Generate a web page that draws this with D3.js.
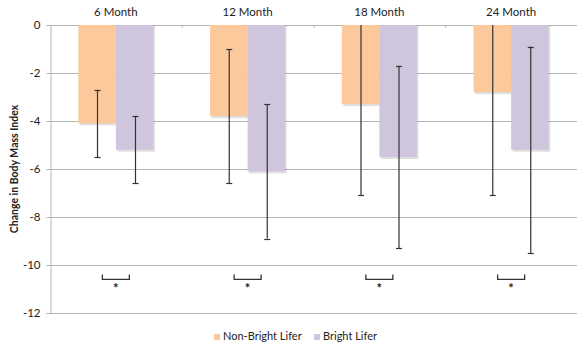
<!DOCTYPE html>
<html><head><meta charset="utf-8">
<script src="https://cdn.jsdelivr.net/npm/d3@7"></script>
<style>
body{margin:0;background:#fff;}
svg{display:block;font-family:Lato,"Open Sans",sans-serif;}
</style></head>
<body><svg id="c" width="587" height="356"></svg>
<script>
const categories = ["6 Month","12 Month","18 Month","24 Month"];
const seriesNames = ["Non-Bright Lifer","Bright Lifer"];
const nonBright = [-4.1,-3.8,-3.3,-2.8];
const bright = [-5.2,-6.1,-5.5,-5.2];
const errNonBright = [1.4,2.8,3.8,4.3];
const errBright = [1.4,2.8,3.8,4.3];
const yTicks = [0,-2,-4,-6,-8,-10,-12];
const sigBracket = [-10.4,-10.6];
const sigStar = -10.95;
const colors = ["#FBC99C","#CFC5DC"];

(function(){
const svg = d3.select("#c");
const pLeft=50, pRight=577, pTop=25, pBottom=313;
const y = d3.scaleLinear().domain([0,-12]).range([pTop,pBottom]);
const x0 = d3.scaleBand().domain(categories).range([pLeft,pRight]).paddingInner(0).paddingOuter(0);
const bw = x0.bandwidth();
const barW = bw*0.285;
const x1 = d3.scaleBand().domain(seriesNames).range([bw/2-barW, bw/2+barW]).padding(0);

// gridlines
svg.append("g").selectAll("line").data(yTicks).join("line")
  .attr("x1",pLeft).attr("x2",pRight).attr("y1",d=>y(d)+0.5).attr("y2",d=>y(d)+0.5)
  .attr("stroke","#b5b5b5").attr("stroke-width",1);

// y axis
const yAxis = d3.axisLeft(y).tickValues(yTicks).tickSize(4).tickPadding(6).tickFormat(d=>String(d));
const gy = svg.append("g").attr("transform",`translate(${pLeft+0.5},0)`).call(yAxis);
gy.select(".domain").attr("stroke","#b5b5b5");
gy.selectAll(".tick line").attr("stroke","#b5b5b5");
gy.selectAll("text").attr("font-size",11.5).attr("fill","#222").attr("font-family","Lato,'Open Sans',sans-serif");

// category labels at top
svg.append("g").selectAll("text").data(categories).join("text")
  .attr("x",d=>x0(d)+bw/2).attr("y",16).attr("text-anchor","middle")
  .attr("font-size",11.5).attr("fill","#222").text(d=>d);
// category ticks on 0 line
svg.append("g").selectAll("line").data(categories.slice(1)).join("line")
  .attr("x1",d=>x0(d)+0.5).attr("x2",d=>x0(d)+0.5).attr("y1",y(0)).attr("y2",y(0)+3)
  .attr("stroke","#b5b5b5");

const data = categories.map((c,i)=>({c, vals:[
  {s:seriesNames[0], v:nonBright[i], e:errNonBright[i], col:colors[0]},
  {s:seriesNames[1], v:bright[i], e:errBright[i], col:colors[1]}]}));

const groups = svg.append("g").selectAll("g").data(data).join("g")
  .attr("transform",d=>`translate(${x0(d.c)},0)`);

// shadow
groups.selectAll("rect.sh").data(d=>d.vals).join("rect").attr("class","sh")
  .attr("x",d=>x1(d.s)+1.5).attr("width",x1.bandwidth())
  .attr("y",y(0)).attr("height",d=>y(d.v)-y(0)+2)
  .attr("fill","#000").attr("opacity",0.12);
groups.selectAll("rect.bar").data(d=>d.vals).join("rect").attr("class","bar")
  .attr("x",d=>x1(d.s)).attr("width",x1.bandwidth())
  .attr("y",y(0)).attr("height",d=>y(d.v)-y(0))
  .attr("fill",d=>d.col);

// error bars
const eb = groups.selectAll("g.eb").data(d=>d.vals).join("g").attr("class","eb")
  .attr("transform",d=>`translate(${Math.round(x1(d.s)+x1.bandwidth()/2)+0.5},0)`);
eb.append("line").attr("y1",d=>y(Math.min(0,d.v+d.e))).attr("y2",d=>y(d.v-d.e))
  .attr("stroke","#333").attr("stroke-width",1.2);
eb.filter(d=>d.v+d.e<0).append("line").attr("x1",-3).attr("x2",3)
  .attr("y1",d=>Math.round(y(d.v+d.e))+0.5).attr("y2",d=>Math.round(y(d.v+d.e))+0.5)
  .attr("stroke","#333").attr("stroke-width",1.2);
eb.append("line").attr("x1",-3).attr("x2",3)
  .attr("y1",d=>Math.round(y(d.v-d.e))+0.5).attr("y2",d=>Math.round(y(d.v-d.e))+0.5)
  .attr("stroke","#333").attr("stroke-width",1.2);

// significance brackets
groups.append("path")
  .attr("d",d=>{const cx=bw/2, h=13.5; return `M${cx-h},${y(sigBracket[0])}V${y(sigBracket[1])}H${cx+h}V${y(sigBracket[0])}`;})
  .attr("fill","none").attr("stroke","#333").attr("stroke-width",1.3);
groups.append("text").attr("x",bw/2).attr("y",y(sigStar)+5.5).attr("text-anchor","middle")
  .attr("font-size",13).attr("font-weight","bold").attr("fill","#222").text("*");

// y title
svg.append("text").attr("transform",`translate(18,${(pTop+pBottom)/2}) rotate(-90)`)
  .attr("text-anchor","middle").attr("font-size",10.5).attr("font-weight","bold").attr("fill","#222")
  .text("Change in Body Mass Index");

// legend
const legX = [214, 314];
const lg = svg.append("g").selectAll("g").data(seriesNames).join("g")
  .attr("transform",(d,i)=>`translate(${legX[i]},340)`);
lg.append("rect").attr("x",0).attr("y",-6).attr("width",6).attr("height",6).attr("fill",(d,i)=>colors[i]);
lg.append("text").attr("x",9).attr("y",0).attr("font-size",11).attr("fill","#222").text(d=>d);
})();
</script></body></html>
